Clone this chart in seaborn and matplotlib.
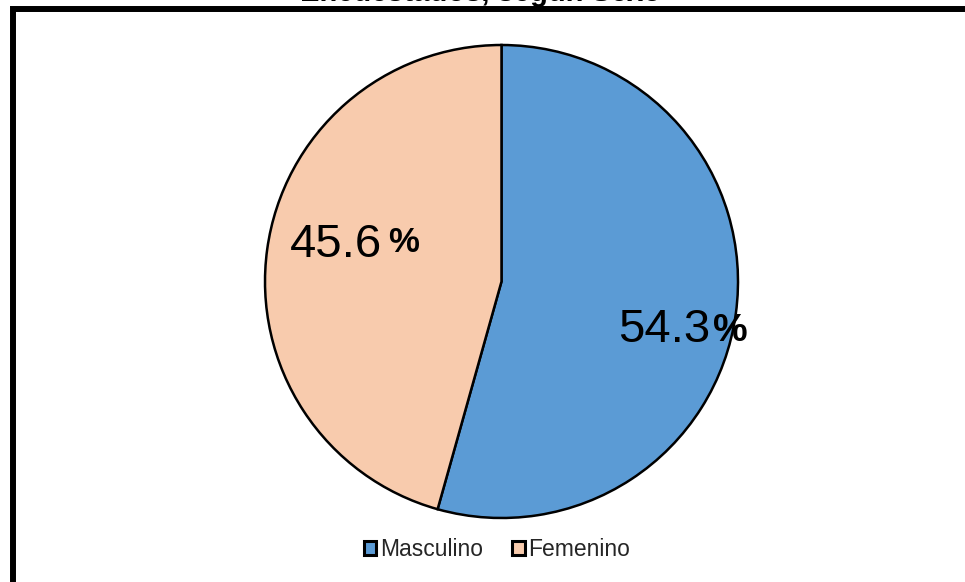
import matplotlib
matplotlib.use("Agg")
import matplotlib.pyplot as plt
from matplotlib.patches import Rectangle
import seaborn as sns

categories = ["Masculino", "Femenino"]
values = [54.3, 45.6]
value_labels = ["54.3", "45.6"]
colors = ["#5B9BD5", "#F8CBAD"]
title_text = "Encuestados, según Sexo"

sns.set_theme(style="white")
plt.rcParams["font.family"] = ["Liberation Sans", "DejaVu Sans"]

W, H = 965, 582
fig = plt.figure(figsize=(W / 100, H / 100), dpi=100)
fig.patch.set_facecolor("white")
ax = fig.add_axes([0, 0, 1, 1])

cx, cy, R = 501.5, 281.5, 236.5

wedges, _ = ax.pie(values, colors=colors, startangle=90, counterclock=False,
                   radius=1, center=(0, 0), frame=True,
                   wedgeprops=dict(edgecolor="black", linewidth=1.8))
ax.set_xlim(-cx / R, (W - cx) / R)
ax.set_ylim(-(H - cy) / R, cy / R)
ax.set_aspect("equal")
ax.axis("off")

# labels: number + separately styled percent sign
label_pos = {
    0: dict(num_right=0.882, pct_left=0.893, base=-0.255, pct_base=-0.252, pct_size=28),
    1: dict(num_right=-0.505, pct_left=-0.478, base=0.105, pct_base=0.124, pct_size=25),
}
for i, lab in enumerate(value_labels):
    p = label_pos[i]
    ax.text(p["num_right"], p["base"], lab, ha="right", va="baseline",
            fontsize=34, color="black")
    ax.text(p["pct_left"], p["pct_base"], "%", ha="left", va="baseline",
            fontsize=p["pct_size"], fontweight="bold", color="black")

leg = ax.legend(wedges, categories, loc="center", bbox_to_anchor=(497 / W, 1 - 550 / H),
                bbox_transform=fig.transFigure, ncol=2, frameon=False,
                fontsize=16.5, handlelength=0.55, handleheight=0.55,
                handletextpad=0.15, columnspacing=1.3)
for h in leg.legend_handles:
    h.set_linewidth(2.2)

# clipped title above frame
fig.text(480 / W, 1 - 1.0 / H, title_text, ha="center", va="baseline",
         fontsize=21, fontweight="bold", color="black")

# outer frame (extends past right and bottom edges)
fig.patches.append(Rectangle((13 / W, -0.2), 2, (H - 9) / H + 0.2,
                             transform=fig.transFigure, fill=False,
                             edgecolor="black", linewidth=4.3))

fig.savefig("out.png", dpi=100, facecolor="white")
